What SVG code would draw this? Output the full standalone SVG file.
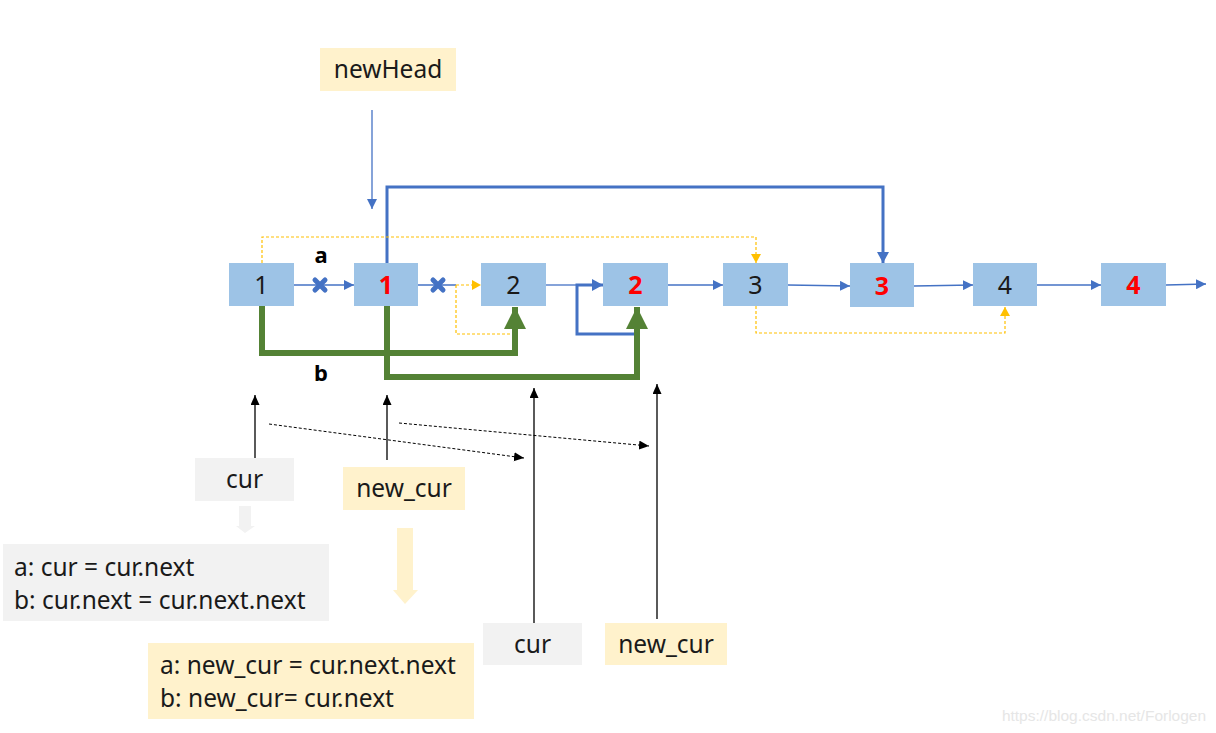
<svg xmlns="http://www.w3.org/2000/svg" width="1216" height="733" viewBox="0 0 1216 733">
<defs>
<style>
.node rect{fill:#9dc3e6}
.nt{font-family:"Noto Sans","Open Sans",sans-serif;font-size:25px;fill:#1a1a1a;text-anchor:middle}
.nr{font-family:"Noto Sans","Open Sans",sans-serif;font-size:25px;font-weight:bold;fill:#ff0000;text-anchor:middle}
.lbl{font-family:"Noto Sans","Open Sans",sans-serif;font-size:24.5px;fill:#1a1a1a}
.ab{font-family:"Noto Sans","Open Sans",sans-serif;font-size:22px;font-weight:bold;fill:#000;text-anchor:middle}
.bt{fill:none;stroke:#4472c4;stroke-width:1.3}
.bT{fill:none;stroke:#4472c4;stroke-width:3}
.gr{fill:none;stroke:#548235;stroke-width:6}
.yd{fill:none;stroke:#ffc000;stroke-width:1.2;stroke-dasharray:3 2}
.bk{fill:none;stroke:#000;stroke-width:1.3}
.bd{fill:none;stroke:#000;stroke-width:1;stroke-dasharray:3 2}
.x{stroke:#4472c4;stroke-width:5;stroke-linecap:round}
</style>
<marker id="mb" markerUnits="userSpaceOnUse" markerWidth="12" markerHeight="10" refX="10" refY="5" orient="auto"><path d="M0,0 L10,5 L0,10 z" fill="#4472c4"/></marker>
<marker id="mB" markerUnits="userSpaceOnUse" markerWidth="12" markerHeight="12" refX="11" refY="6" orient="auto"><path d="M0,0 L11,6 L0,12 z" fill="#4472c4"/></marker>
<marker id="my" markerUnits="userSpaceOnUse" markerWidth="10" markerHeight="10" refX="9" refY="5" orient="auto"><path d="M0,0 L9,5 L0,10 z" fill="#ffc000"/></marker>
<marker id="mk" markerUnits="userSpaceOnUse" markerWidth="12" markerHeight="10" refX="10" refY="4.5" orient="auto"><path d="M0,0 L10,4.5 L0,9 z" fill="#000"/></marker>
<marker id="mg" markerUnits="userSpaceOnUse" markerWidth="24" markerHeight="24" refX="22" refY="11" orient="auto"><path d="M0,0 L22,11 L0,22 z" fill="#548235"/></marker>
</defs>
<rect width="1216" height="733" fill="#fff"/>

<g id="connectors">
<path class="bt" d="M294,285 H354" marker-end="url(#mb)"/>
<path class="bt" d="M418,285 H456"/>
<path class="yd" d="M456,285 H481" marker-end="url(#my)"/>
<path class="bt" d="M546,285 H577"/>
<path class="bt" d="M668,285 H723" marker-end="url(#mb)"/>
<path class="bt" d="M788,285 L850,286" marker-end="url(#mb)"/>
<path class="bt" d="M914,286 L973,285" marker-end="url(#mb)"/>
<path class="bt" d="M1037,285 H1101" marker-end="url(#mb)"/>
<path class="bt" d="M1166,285 L1206,284" marker-end="url(#mb)"/>
<path class="x" d="M315,280 L325,290 M325,280 L315,290"/>
<path class="x" d="M433,280 L443,290 M443,280 L433,290"/>
<path class="bt" d="M372,110 V209" marker-end="url(#mb)"/>
<path class="bT" d="M387,263 V187 H883 V263" marker-end="url(#mB)"/>
<path class="bT" d="M636,334 H577 V285 H603" marker-end="url(#mB)"/>
<path class="yd" d="M262,263 V237 H756 V263" marker-end="url(#my)"/>
<path class="yd" d="M456,285 V334 H510"/>
<path class="yd" d="M756,306 V333 H1005 V307" marker-end="url(#my)"/>
<path class="gr" d="M262,306 V353 H515 V307" marker-end="url(#mg)"/>
<path class="gr" d="M387,306 V377 H637 V307" marker-end="url(#mg)"/>
<path class="bk" d="M255,458 V395" marker-end="url(#mk)"/>
<path class="bk" d="M387,460 V395" marker-end="url(#mk)"/>
<path class="bk" d="M534,623 V388" marker-end="url(#mk)"/>
<path class="bk" d="M657,619 V384" marker-end="url(#mk)"/>
<path class="bd" d="M269,424 L524,458" marker-end="url(#mk)"/>
<path class="bd" d="M399,423 L649,446" marker-end="url(#mk)"/>
<path d="M239,506 H251 V526 H255 L245,533 L236,526 H239 Z" fill="#f2f2f2"/>
<path d="M397,528 H413 V590 H418 L405,604 L393,590 H397 Z" fill="#fff2cc"/>
</g>

<g id="n1" class="node"><rect x="229" y="263" width="65" height="43"/><text class="nt" x="261.5" y="294">1</text></g>
<g id="n1r" class="node"><rect x="354" y="263" width="64" height="43"/><text class="nr" x="386" y="294">1</text></g>
<g id="n2" class="node"><rect x="481" y="263" width="65" height="43"/><text class="nt" x="513.5" y="294">2</text></g>
<g id="n2r" class="node"><rect x="603" y="263" width="65" height="43"/><text class="nr" x="635.5" y="294">2</text></g>
<g id="n3" class="node"><rect x="723" y="263" width="65" height="43"/><text class="nt" x="755.5" y="294">3</text></g>
<g id="n3r" class="node"><rect x="850" y="263" width="64" height="44"/><text class="nr" x="882" y="295">3</text></g>
<g id="n4" class="node"><rect x="973" y="263" width="64" height="43"/><text class="nt" x="1005" y="294">4</text></g>
<g id="n4r" class="node"><rect x="1101" y="263" width="65" height="43"/><text class="nr" x="1133.5" y="294">4</text></g>

<g id="labels">
<text class="ab" x="321" y="263">a</text>
<text class="ab" x="321" y="381">b</text>
</g>

<g id="newHead"><rect x="320" y="48" width="136" height="43" fill="#fff2cc"/><text class="lbl" x="388" y="78" text-anchor="middle">newHead</text></g>
<g id="cur1"><rect x="195" y="458" width="99" height="43" fill="#f2f2f2"/><text class="lbl" x="244.5" y="488" text-anchor="middle">cur</text></g>
<g id="newcur1"><rect x="343" y="467" width="122" height="43" fill="#fff2cc"/><text class="lbl" x="404" y="497" text-anchor="middle">new_cur</text></g>
<g id="curNote"><rect x="3" y="544" width="326" height="77" fill="#f2f2f2"/>
<text class="lbl" x="14" y="576">a: cur = cur.next</text>
<text class="lbl" x="14" y="609">b: cur.next = cur.next.next</text></g>
<g id="newcurNote"><rect x="148" y="643" width="326" height="76" fill="#fff2cc"/>
<text class="lbl" x="160" y="674">a: new_cur = cur.next.next</text>
<text class="lbl" x="160" y="707">b: new_cur= cur.next</text></g>
<g id="cur2"><rect x="483" y="623" width="99" height="42" fill="#f2f2f2"/><text class="lbl" x="532.5" y="653" text-anchor="middle">cur</text></g>
<g id="newcur2"><rect x="605" y="623" width="122" height="42" fill="#fff2cc"/><text class="lbl" x="666" y="653" text-anchor="middle">new_cur</text></g>
<text x="1104" y="721" font-family="Liberation Sans, Arial, sans-serif" font-size="15.5" fill="#e6e6e6" text-anchor="middle">https://blog.csdn.net/Forlogen</text>
</svg>
